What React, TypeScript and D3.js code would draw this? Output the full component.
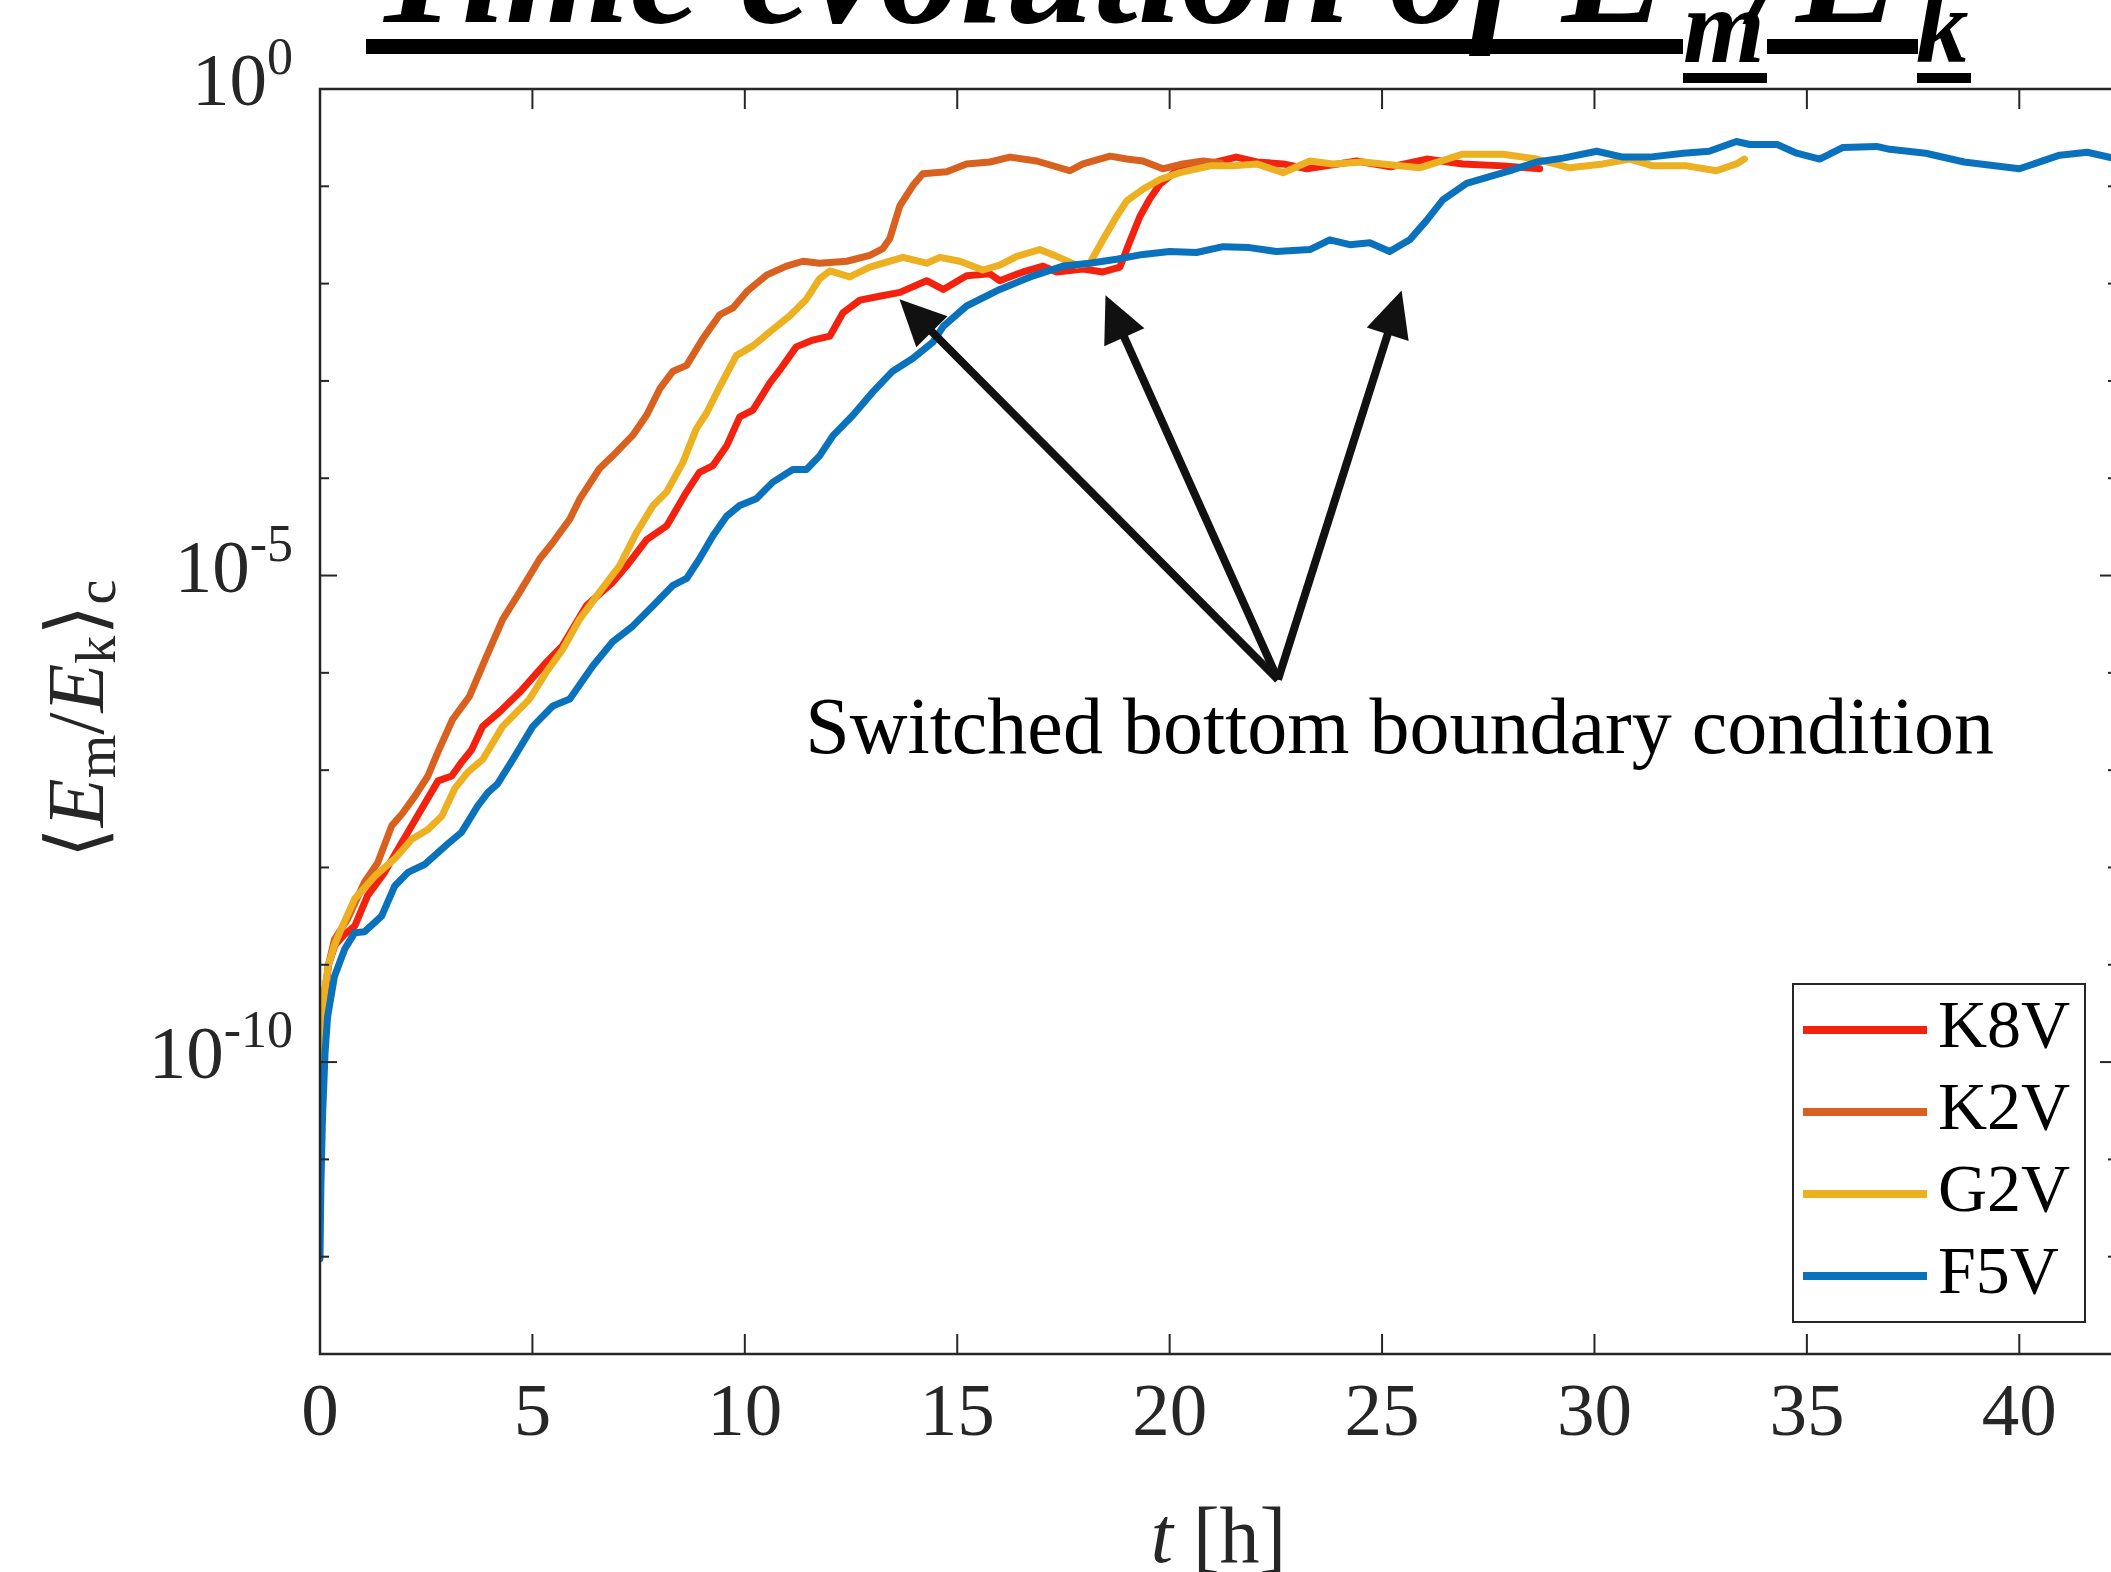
import React from 'react';
import * as d3 from 'd3';

// time [h] and log10 <Em/Ek>_c
const tK8V = [0, 0.04, 0.1, 0.2, 0.35, 0.55, 0.82, 1.12, 1.52, 1.93, 2.39, 2.78, 3.1, 3.33, 3.57, 3.83, 4.23, 4.7, 5.33, 5.71, 6.27, 6.89, 7.22, 7.69, 8.16, 8.63, 8.93, 9.25, 9.57, 9.88, 10.19, 10.59, 10.82, 11.21, 11.6, 12.0, 12.31, 12.71, 13.17, 13.65, 14.28, 14.67, 15.22, 15.77, 16.0, 16.55, 17.02, 17.34, 17.96, 18.43, 18.83, 19.06, 19.3, 19.53, 19.77, 20.16, 20.63, 21.1, 21.57, 22.05, 22.67, 23.23, 23.69, 24.4, 25.2, 26.05, 26.9, 27.85, 28.71];
const logK8V = [-10.6, -9.9, -9.4, -9.0, -8.8, -8.7, -8.6, -8.29, -8.05, -7.74, -7.4, -7.11, -7.06, -6.92, -6.79, -6.55, -6.4, -6.2, -5.89, -5.72, -5.31, -5.07, -4.9, -4.63, -4.49, -4.14, -3.94, -3.87, -3.67, -3.37, -3.3, -3.02, -2.89, -2.65, -2.58, -2.54, -2.3, -2.17, -2.13, -2.09, -1.97, -2.06, -1.92, -1.9, -1.97, -1.88, -1.82, -1.88, -1.85, -1.88, -1.83, -1.57, -1.31, -1.13, -0.98, -0.84, -0.79, -0.75, -0.7, -0.75, -0.77, -0.82, -0.79, -0.74, -0.8, -0.72, -0.77, -0.79, -0.82];

const tK2V = [0, 0.04, 0.1, 0.2, 0.34, 0.65, 1.05, 1.36, 1.69, 1.93, 2.23, 2.54, 2.78, 3.12, 3.52, 3.92, 4.3, 4.7, 5.17, 5.48, 5.88, 6.12, 6.58, 6.89, 7.36, 7.69, 8.0, 8.31, 8.63, 9.02, 9.41, 9.72, 10.05, 10.52, 10.98, 11.37, 11.76, 12.4, 12.94, 13.25, 13.41, 13.65, 13.96, 14.19, 14.75, 15.22, 15.77, 16.24, 16.87, 17.65, 17.96, 18.6, 18.99, 19.37, 19.84, 20.31, 20.79, 21.2];
const logK2V = [-10.4, -9.7, -9.3, -9.0, -8.74, -8.53, -8.15, -7.95, -7.57, -7.45, -7.27, -7.06, -6.81, -6.48, -6.24, -5.83, -5.45, -5.17, -4.83, -4.66, -4.42, -4.21, -3.9, -3.77, -3.56, -3.35, -3.08, -2.9, -2.84, -2.56, -2.32, -2.25, -2.08, -1.91, -1.82, -1.77, -1.79, -1.77, -1.71, -1.64, -1.54, -1.2, -0.99, -0.87, -0.85, -0.77, -0.75, -0.7, -0.74, -0.84, -0.77, -0.69, -0.72, -0.74, -0.82, -0.77, -0.74, -0.76];

const tG2V = [0, 0.04, 0.1, 0.2, 0.34, 0.5, 0.82, 1.29, 1.76, 2.16, 2.54, 2.87, 3.17, 3.48, 3.83, 4.3, 4.93, 5.33, 5.71, 6.11, 6.58, 7.05, 7.45, 7.84, 8.16, 8.54, 8.86, 9.1, 9.41, 9.8, 10.19, 10.66, 11.06, 11.45, 11.76, 12.0, 12.47, 12.94, 13.72, 14.28, 14.59, 15.06, 15.6, 16.0, 16.4, 16.94, 17.34, 17.81, 18.12, 18.43, 18.75, 18.99, 19.37, 19.77, 20.24, 20.95, 21.49, 22.05, 22.67, 23.3, 23.84, 24.55, 25.88, 26.9, 27.85, 28.64, 29.42, 30.2, 30.83, 31.38, 32.17, 32.87, 33.34, 33.53];
const logG2V = [-10.5, -9.8, -9.3, -9.0, -8.8, -8.63, -8.32, -8.09, -7.91, -7.71, -7.61, -7.47, -7.19, -7.02, -6.89, -6.55, -6.27, -5.99, -5.76, -5.45, -5.17, -4.9, -4.56, -4.28, -4.14, -3.84, -3.49, -3.33, -3.06, -2.74, -2.64, -2.47, -2.33, -2.16, -1.95, -1.87, -1.93, -1.83, -1.73, -1.79, -1.73, -1.77, -1.86, -1.81, -1.72, -1.65, -1.72, -1.81, -1.79, -1.55, -1.31, -1.15, -1.03, -0.93, -0.86, -0.79, -0.79, -0.77, -0.86, -0.74, -0.77, -0.75, -0.81, -0.67, -0.67, -0.72, -0.81, -0.77, -0.72, -0.79, -0.79, -0.84, -0.77, -0.72];

const tF5V = [0, 0.02, 0.06, 0.12, 0.18, 0.34, 0.58, 0.82, 1.05, 1.45, 1.76, 2.07, 2.46, 3.0, 3.33, 3.71, 3.95, 4.18, 4.54, 5.01, 5.48, 5.88, 6.42, 6.89, 7.36, 7.84, 8.31, 8.63, 8.93, 9.25, 9.57, 9.88, 10.27, 10.66, 11.13, 11.45, 11.76, 12.08, 12.55, 13.02, 13.48, 13.95, 14.43, 14.67, 15.22, 16.0, 16.79, 17.49, 18.12, 18.75, 19.37, 20.0, 20.63, 21.26, 21.88, 22.51, 23.3, 23.77, 24.24, 24.71, 25.18, 25.65, 26.05, 26.43, 26.99, 27.53, 28.08, 28.64, 29.26, 30.05, 30.67, 31.3, 32.09, 32.7, 33.34, 33.66, 34.3, 34.76, 35.3, 35.85, 36.64, 36.95, 37.8, 38.7, 40.0, 40.95, 41.6, 42.3];
const logF5V = [-12.02, -11.3, -10.55, -9.9, -9.53, -9.12, -8.84, -8.67, -8.66, -8.5, -8.19, -8.05, -7.97, -7.76, -7.64, -7.37, -7.23, -7.14, -6.89, -6.55, -6.34, -6.27, -5.93, -5.68, -5.52, -5.31, -5.1, -5.03, -4.83, -4.59, -4.39, -4.28, -4.21, -4.04, -3.91, -3.91, -3.77, -3.56, -3.35, -3.11, -2.9, -2.77, -2.6, -2.44, -2.23, -2.06, -1.92, -1.82, -1.79, -1.75, -1.7, -1.67, -1.68, -1.62, -1.63, -1.67, -1.65, -1.55, -1.6, -1.58, -1.67, -1.55, -1.35, -1.14, -0.97, -0.9, -0.83, -0.75, -0.71, -0.64, -0.7, -0.7, -0.66, -0.64, -0.54, -0.57, -0.57, -0.66, -0.72, -0.6, -0.59, -0.62, -0.66, -0.75, -0.82, -0.68, -0.65, -0.72];

const seriesNames = ['K8V', 'K2V', 'G2V', 'F5V'];
const seriesColors = ['#f3220f', '#d9611f', '#ecb021', '#0a72bd'];
const seriesT = [tK8V, tK2V, tG2V, tF5V];
const seriesLog = [logK8V, logK2V, logG2V, logF5V];

const xTicks = [0, 5, 10, 15, 20, 25, 30, 35, 40];
const yDecades = d3.range(-13, 1);
const yLabelled = [0, -5, -10];

// annotation, in data units (t, log10)
const noteText = 'Switched bottom boundary condition';
const notePos: [number, number] = [11.42, -6.82];
const arrowFrom: [number, number] = [22.55, -6.07];
const arrowTips: [number, number][] = [[13.64, -2.16], [18.49, -2.12], [25.46, -2.07]];

const CM = "'Liberation Serif', 'DejaVu Serif', serif";
const AX = '#262626';

const App: React.FC = () => {
  const left = 320, right = 2117, top = 89, bottom = 1354;
  const x = d3.scaleLinear().domain([0, 42.3]).range([left, right]);
  const y = d3.scaleLog().domain([1e-13, 1]).range([bottom, top]);
  const line = d3.line<[number, number]>()
    .x(d => x(d[0]))
    .y(d => y(Math.pow(10, d[1])));

  const ox = x(arrowFrom[0]);
  const oy = y(Math.pow(10, arrowFrom[1]));
  const headLen = 46, headHalf = 22;

  return (
    <svg width={2111} height={1572} style={{ position: 'absolute', left: 0, top: 0, background: '#fff' }}>
      <defs>
        <clipPath id="plot">
          <rect x={left} y={top} width={right - left} height={bottom - top} />
        </clipPath>
      </defs>

      {/* title (cropped at the top in the original) */}
      <g fontFamily="'Liberation Serif', serif" fontWeight="bold" fontStyle="italic" fill="#000">
        <text x={370} y={22} fontSize={158} textLength={1298} lengthAdjust="spacingAndGlyphs">Time evolution of E</text>
        <text x={1683} y={62} fontSize={105}>m</text>
        <text x={1752} y={22} fontSize={158}>/</text>
        <text x={1796} y={22} fontSize={158}>E</text>
        <text x={1916} y={62} fontSize={105}>k</text>
        <rect x={366} y={39} width={1317} height={15} />
        <rect x={1767} y={39} width={151} height={15} />
        <rect x={1683} y={73} width={84} height={10} />
        <rect x={1917} y={73} width={54} height={10} />
      </g>

      {/* curves */}
      <g clipPath="url(#plot)" fill="none" strokeWidth={7} strokeLinejoin="round" strokeLinecap="round">
        {seriesNames.map((name, i) => (
          <path key={name} d={line(seriesT[i].map((t, j) => [t, seriesLog[i][j]] as [number, number])) || ''} stroke={seriesColors[i]} />
        ))}
      </g>

      {/* axes box and ticks */}
      <rect x={left} y={top} width={right - left} height={bottom - top} fill="none" stroke={AX} strokeWidth={2.5} />
      <g stroke={AX} strokeWidth={2}>
        {xTicks.map(t => (
          <g key={t}>
            <line x1={x(t)} x2={x(t)} y1={bottom} y2={bottom - 20} />
            <line x1={x(t)} x2={x(t)} y1={top} y2={top + 20} />
          </g>
        ))}
        {yDecades.map(d => {
          const len = yLabelled.includes(d) ? 17 : 9;
          const yy = y(Math.pow(10, d));
          return (
            <g key={d}>
              <line x1={left} x2={left + len} y1={yy} y2={yy} />
              <line x1={right} x2={right - len} y1={yy} y2={yy} />
            </g>
          );
        })}
      </g>

      <g fontFamily={CM} fill="#262626">
        {xTicks.map(t => (
          <text key={t} x={x(t)} y={1435} fontSize={75} textAnchor="middle">{t}</text>
        ))}
        {yLabelled.map(d => (
          <text key={d} x={293} y={y(Math.pow(10, d)) + 16} fontSize={75} textAnchor="end">
            10<tspan fontSize={52} dy={-31}>{d}</tspan>
          </text>
        ))}
        <text x={(left + right) / 2} y={1562} fontSize={80} textAnchor="middle">
          <tspan fontStyle="italic">t</tspan> [h]
        </text>
        <g transform="translate(103,719) rotate(-90)">
          <text fontSize={80} textAnchor="middle">
            <tspan>⟨</tspan>
            <tspan fontStyle="italic">E</tspan>
            <tspan fontSize={56} dy={12}>m</tspan>
            <tspan dy={-12}>/</tspan>
            <tspan fontStyle="italic">E</tspan>
            <tspan fontSize={56} dy={12}>k</tspan>
            <tspan dy={-12}>⟩</tspan>
            <tspan fontSize={56} dy={12}>c</tspan>
          </text>
        </g>
      </g>

      {/* annotation */}
      <text x={x(notePos[0])} y={y(Math.pow(10, notePos[1]))} fontFamily="'Liberation Serif', serif" fontSize={80} fill="#000">{noteText}</text>
      <g fill="#111" stroke="#111">
        {arrowTips.map((tip, i) => {
          const tx = x(tip[0]);
          const ty = y(Math.pow(10, tip[1]));
          const dx = tx - ox, dy = ty - oy;
          const L = Math.hypot(dx, dy);
          const ux = dx / L, uy = dy / L;
          const bx = tx - ux * headLen, by = ty - uy * headLen;
          const nx = -uy * headHalf, ny = ux * headHalf;
          return (
            <g key={i}>
              <line x1={ox} y1={oy} x2={tx - ux * (headLen - 6)} y2={ty - uy * (headLen - 6)} strokeWidth={8} />
              <polygon points={`${tx},${ty} ${bx + nx},${by + ny} ${bx - nx},${by - ny}`} stroke="none" />
            </g>
          );
        })}
      </g>

      {/* legend */}
      <rect x={1793} y={984} width={292} height={338} fill="#fff" stroke={AX} strokeWidth={2} />
      {seriesNames.map((name, i) => {
        const ly = 1030 + i * 82;
        return (
          <g key={name}>
            <line x1={1803} x2={1927} y1={ly} y2={ly} stroke={seriesColors[i]} strokeWidth={8} />
            <text x={1938} y={ly + 17} fontFamily={CM} fontSize={68} fill="#000">{name}</text>
          </g>
        );
      })}
    </svg>
  );
};

export default App;
